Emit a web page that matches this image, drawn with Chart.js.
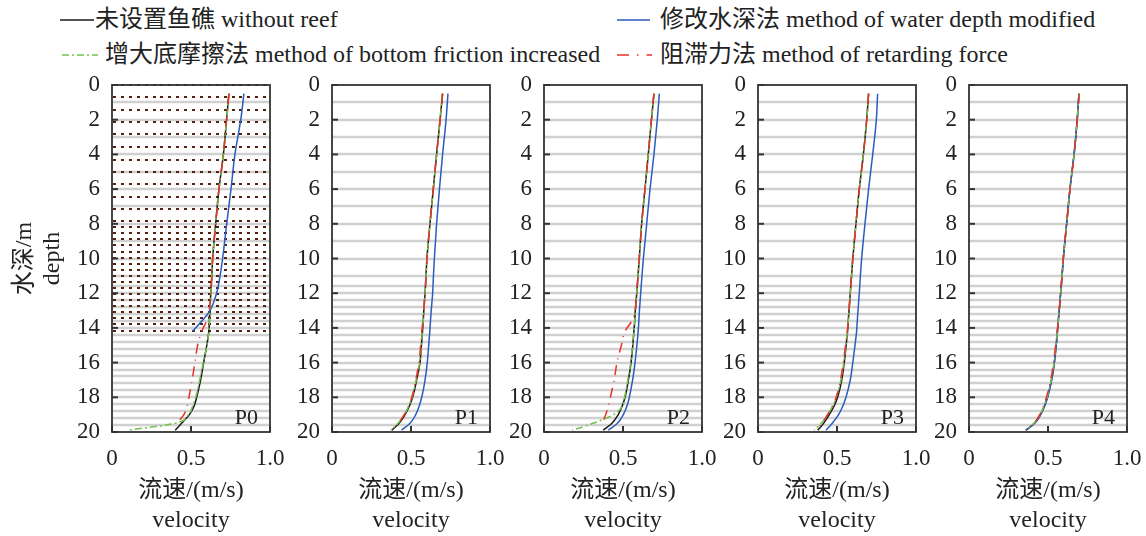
<!DOCTYPE html>
<html>
<head>
<meta charset="utf-8">
<script src="https://cdn.jsdelivr.net/npm/chart.js@4.4.1/dist/chart.umd.min.js"></script>
<style>
body { margin: 0; width: 1146px; height: 536px; background: #fff; position: relative; overflow: hidden;
       font-family: "Liberation Serif", "Noto Sans CJK SC", serif; color: #222; }
canvas { position: absolute; top: 70px; }
.leg { position: absolute; font-size: 24px; line-height: 30px; white-space: nowrap; color: #222; }
svg { position: absolute; }
</style>
</head>
<body>
<!-- legend -->
<svg style="left:0;top:0" width="1146" height="70">
  <line x1="60" y1="20" x2="94" y2="20" stroke="#1a1a1a" stroke-width="1.6"/>
  <line x1="617" y1="20" x2="650" y2="20" stroke="#2a5cbf" stroke-width="1.6"/>
  <line x1="62" y1="55" x2="98" y2="55" stroke="#73c04a" stroke-width="1.6" stroke-dasharray="7 3 2 3"/>
  <line x1="617" y1="55" x2="652" y2="55" stroke="#e8332b" stroke-width="1.6" stroke-dasharray="12 8 1.5 8"/>
</svg>
<div class="leg" style="left:95px;top:4px">未设置鱼礁 without reef</div>
<div class="leg" style="left:660px;top:4px">修改水深法 method of water depth modified</div>
<div class="leg" style="left:105px;top:39px">增大底摩擦法 method of bottom friction increased</div>
<div class="leg" style="left:660px;top:39px">阻滞力法 method of retarding force</div>

<canvas id="p0"></canvas>
<canvas id="p1"></canvas>
<canvas id="p2"></canvas>
<canvas id="p3"></canvas>
<canvas id="p4"></canvas>

<script>
// depth levels (m) at which velocities are read
const depths = [0.5, 2, 4, 6, 8, 10, 11, 12, 13, 13.5, 14.2, 15, 16, 17, 18, 18.5, 19, 19.5, 19.9];
const panelNames = ['P0', 'P1', 'P2', 'P3', 'P4'];
const xTicks = [0, 0.5, 1.0];
// model layers (grey lines) and reef mesh rows (dotted, P0 only)
const layerDepths = [1, 2, 3, 4, 5, 6, 7, 8, 9, 10, 11, 11.6, 12, 12.4, 12.8, 13.2, 13.6, 14, 14.4, 14.8,
                     15.2, 15.6, 16, 16.4, 16.8, 17.2, 17.6, 18, 18.4, 18.8, 19.2, 19.6];
const reefRows = [0, 0.71, 1.45, 2.12, 2.85, 3.56, 4.3, 5.0, 5.72, 6.45, 7.13, 7.84, 8.2, 8.55, 8.9, 9.25,
                  9.6, 9.95, 10.3, 10.65, 11.0, 11.35, 11.7, 12.05, 12.4, 12.75, 13.1, 13.45, 13.8, 14.15];
const reefColumnStep = 0.05; // mesh node spacing along the velocity axis

// velocity (m/s), one row per panel P0..P4, aligned with depths
const withoutReef = [
    [0.74, 0.725, 0.705, 0.677, 0.656, 0.637, 0.632, 0.625, 0.62, 0.617, 0.613, 0.60, 0.58, 0.561, 0.536, 0.52, 0.49, 0.44, 0.40],
    [0.70, 0.684, 0.662, 0.641, 0.62, 0.601, 0.595, 0.589, 0.581, 0.578, 0.573, 0.566, 0.557, 0.536, 0.51, 0.49, 0.462, 0.425, 0.378],
    [0.696, 0.68, 0.66, 0.639, 0.618, 0.603, 0.595, 0.587, 0.578, 0.575, 0.569, 0.562, 0.551, 0.534, 0.513, 0.495, 0.47, 0.43, 0.375],
    [0.70, 0.688, 0.667, 0.641, 0.62, 0.60, 0.592, 0.584, 0.576, 0.572, 0.567, 0.558, 0.546, 0.53, 0.504, 0.482, 0.451, 0.415, 0.378],
    [0.696, 0.685, 0.665, 0.639, 0.618, 0.597, 0.589, 0.58, 0.571, 0.566, 0.56, 0.552, 0.54, 0.523, 0.497, 0.478, 0.453, 0.415, 0.361]
];
const depthModified = [
    [0.835, 0.815, 0.778, 0.753, 0.726, 0.70, 0.684, 0.662, 0.62, 0.578, 0.51, null, null, null, null, null, null, null, null],
    [0.734, 0.722, 0.70, 0.68, 0.662, 0.648, 0.642, 0.637, 0.628, 0.624, 0.619, 0.612, 0.603, 0.589, 0.568, 0.552, 0.53, 0.494, 0.44],
    [0.73, 0.717, 0.696, 0.671, 0.65, 0.629, 0.62, 0.612, 0.604, 0.601, 0.596, 0.588, 0.576, 0.561, 0.54, 0.525, 0.502, 0.465, 0.407],
    [0.757, 0.749, 0.726, 0.70, 0.677, 0.656, 0.648, 0.641, 0.633, 0.629, 0.624, 0.614, 0.60, 0.584, 0.557, 0.537, 0.51, 0.47, 0.43],
    [0.696, 0.685, 0.665, 0.639, 0.618, 0.597, 0.589, 0.58, 0.571, 0.566, 0.56, 0.552, 0.54, 0.523, 0.497, 0.478, 0.453, 0.415, 0.361]
];
const frictionIncreased = [
    [0.74, 0.725, 0.705, 0.677, 0.656, 0.637, 0.632, 0.625, 0.62, 0.617, 0.613, 0.60, 0.578, 0.555, 0.53, 0.51, 0.485, 0.40, 0.10],
    [0.70, 0.684, 0.662, 0.641, 0.62, 0.601, 0.595, 0.589, 0.581, 0.578, 0.572, 0.565, 0.555, 0.533, 0.506, 0.486, 0.457, 0.418, 0.37],
    [0.696, 0.68, 0.66, 0.639, 0.618, 0.603, 0.595, 0.587, 0.578, 0.575, 0.569, 0.561, 0.549, 0.531, 0.51, 0.497, 0.44, 0.31, 0.18],
    [0.70, 0.688, 0.667, 0.641, 0.62, 0.60, 0.592, 0.584, 0.576, 0.572, 0.566, 0.556, 0.543, 0.525, 0.495, 0.472, 0.44, 0.40, 0.355],
    [0.696, 0.685, 0.665, 0.639, 0.618, 0.597, 0.589, 0.58, 0.571, 0.566, 0.56, 0.551, 0.538, 0.52, 0.494, 0.475, 0.449, 0.41, 0.358]
];
const retardingForce = [
    [0.74, 0.725, 0.705, 0.677, 0.656, 0.637, 0.632, 0.625, 0.615, 0.603, 0.568, 0.542, 0.525, 0.507, 0.487, 0.475, 0.455, 0.41, null],
    [0.70, 0.684, 0.662, 0.641, 0.62, 0.601, 0.595, 0.589, 0.58, 0.576, 0.568, 0.561, 0.55, 0.53, 0.505, 0.486, 0.457, 0.42, 0.375],
    [0.696, 0.68, 0.66, 0.639, 0.618, 0.603, 0.595, 0.587, 0.577, 0.562, 0.513, 0.49, 0.462, 0.444, 0.42, 0.408, 0.39, 0.367, null],
    [0.70, 0.688, 0.667, 0.641, 0.62, 0.60, 0.592, 0.584, 0.576, 0.572, 0.565, 0.554, 0.54, 0.522, 0.495, 0.472, 0.44, 0.405, 0.365],
    [0.696, 0.685, 0.665, 0.639, 0.618, 0.597, 0.589, 0.58, 0.571, 0.566, 0.558, 0.548, 0.535, 0.517, 0.49, 0.472, 0.448, 0.41, 0.358]
];

// plot area left edges on the page (px); every plot is the same size
const plotLefts = [112, 332, 544, 758, 969];
const plotWidth = 158;

const FONT = '"Liberation Serif", "Noto Sans CJK SC", serif';

// turn one velocity row into {x, y} points, skipping missing levels
const toPoints = vals => depths
    .map((d, i) => ({ x: vals[i], y: d }))
    .filter(p => p.x !== null && p.x !== undefined);

// grey layers, reef dots, frame, inward ticks and panel name
const panelDecor = {
    id: 'panelDecor',
    beforeDatasetsDraw(chart, args, opts) {
        const { ctx, chartArea: a, scales: { x, y } } = chart;
        ctx.save();
        ctx.strokeStyle = '#d0d0d0';
        ctx.lineWidth = 2.5;
        layerDepths.forEach(d => {
            const py = Math.round(y.getPixelForValue(d));
            ctx.beginPath();
            ctx.moveTo(a.left, py);
            ctx.lineTo(a.right, py);
            ctx.stroke();
        });
        if (opts.reef) {
            ctx.fillStyle = '#55200f';
            reefRows.forEach(d => {
                const py = Math.round(y.getPixelForValue(d));
                for (let v = 0; v < x.max - reefColumnStep / 2; v += reefColumnStep) {
                    const px = Math.round(x.getPixelForValue(v)) + 1;
                    ctx.fillRect(px, py - 1, 3, 2);
                }
            });
        }
        ctx.restore();
    },
    afterDatasetsDraw(chart, args, opts) {
        const { ctx, chartArea: a, scales: { x, y } } = chart;
        ctx.save();
        ctx.strokeStyle = '#333';
        ctx.lineWidth = 1.8;
        ctx.strokeRect(a.left, a.top, a.right - a.left, a.bottom - a.top);
        // inward tick marks
        ctx.lineWidth = 2;
        y.ticks.forEach(t => {
            const py = y.getPixelForValue(t.value);
            ctx.beginPath();
            ctx.moveTo(a.left, py);
            ctx.lineTo(a.left + 6, py);
            ctx.stroke();
        });
        x.ticks.forEach(t => {
            const px = x.getPixelForValue(t.value);
            ctx.beginPath();
            ctx.moveTo(px, a.bottom);
            ctx.lineTo(px, a.bottom - 6);
            ctx.stroke();
        });
        ctx.fillStyle = '#222';
        ctx.font = '22px ' + FONT;
        ctx.textAlign = 'right';
        ctx.textBaseline = 'alphabetic';
        ctx.fillText(opts.name, a.right - 12, a.bottom - 8);
        ctx.restore();
    }
};

const renderPanel = (i) => {
    const first = i === 0;
    const yAxisWidth = first ? 112 : 60;
    const padRight = 20;
    const canvas = document.getElementById('p' + i);
    canvas.width = yAxisWidth + plotWidth + padRight;
    canvas.height = 466;
    canvas.style.left = (plotLefts[i] - yAxisWidth) + 'px';

    const tickFont = { family: FONT, size: 23 };
    const titleFont = { family: FONT, size: 24, lineHeight: 1.25 };

    return new Chart(canvas.getContext('2d'), {
        type: 'line',
        data: {
            datasets: [
                { label: '阻滞力法 method of retarding force', data: toPoints(retardingForce[i]),
                  borderColor: '#e8332b', borderDash: [10, 6, 1, 6] },
                { label: '增大底摩擦法 method of bottom friction increased', data: toPoints(frictionIncreased[i]),
                  borderColor: '#73c04a', borderDash: [7, 3, 2, 3] },
                { label: '修改水深法 method of water depth modified', data: toPoints(depthModified[i]),
                  borderColor: '#2a5cbf' },
                { label: '未设置鱼礁 without reef', data: toPoints(withoutReef[i]),
                  borderColor: '#1a1a1a' }
            ]
        },
        options: {
            responsive: false,
            animation: false,
            indexAxis: 'y',
            layout: { padding: { top: 15, right: padRight, left: 0, bottom: 0 } },
            elements: {
                point: { radius: 0 },
                line: { borderWidth: 1.5, cubicInterpolationMode: 'monotone', fill: false }
            },
            plugins: {
                legend: { display: false },
                tooltip: { enabled: false },
                panelDecor: { name: panelNames[i], reef: first }
            },
            scales: {
                x: {
                    type: 'linear',
                    min: 0,
                    max: 1,
                    afterBuildTicks: s => { s.ticks = xTicks.map(v => ({ value: v })); },
                    afterFit: s => { s.height = 104; s.paddingLeft = 0; s.paddingRight = 0; },
                    grid: { display: false, drawTicks: false },
                    border: { display: false },
                    ticks: {
                        font: tickFont, color: '#222', padding: 13, maxRotation: 0, autoSkip: false,
                        callback: v => (v === 0 ? '0' : v.toFixed(1))
                    },
                    title: {
                        display: true, text: ['流速/(m/s)', 'velocity'], font: titleFont,
                        color: '#222', padding: { top: 0, bottom: 0 }
                    }
                },
                y: {
                    type: 'linear',
                    min: 0,
                    max: 20,
                    reverse: true,
                    afterFit: s => { s.width = yAxisWidth; s.paddingTop = 0; s.paddingBottom = 0; },
                    grid: { display: false, drawTicks: false },
                    border: { display: false },
                    ticks: { stepSize: 2, font: tickFont, color: '#222', padding: 12, autoSkip: false },
                    title: {
                        display: first, text: ['水深/m', 'depth'], font: { family: FONT, size: 24, lineHeight: 1.2 },
                        color: '#222', padding: { top: 10, bottom: 0 }
                    }
                }
            }
        },
        plugins: [panelDecor]
    });
};

panelNames.forEach((name, i) => renderPanel(i));
</script>
</body>
</html>
